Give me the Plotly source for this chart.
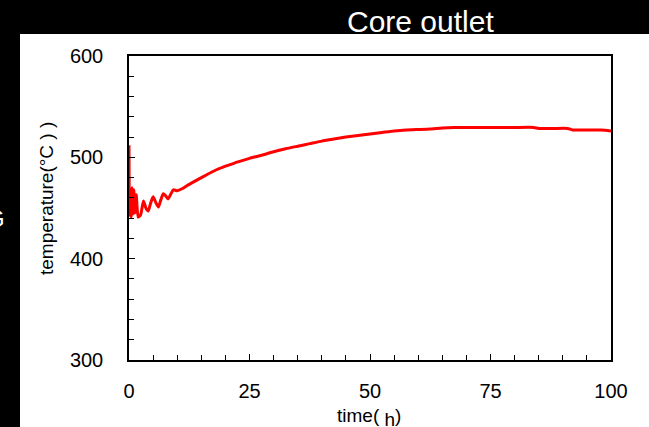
import plotly.graph_objects as go

# ---- data ----
time_h = [0, 0.1, 0.3, 0.45, 0.6, 0.8, 1.0, 1.2, 1.5, 1.9, 2.4, 3.0, 3.5, 4.0, 4.5, 5.0,
          5.6, 6.1, 6.6, 7.1, 7.6, 8.1, 8.6, 9.2, 10, 11, 12, 13.5, 15.4, 17, 18.8,
          20.5, 22.6, 25, 27.5, 30, 32.5, 35, 37.5, 40, 42.5, 45, 47.5, 50, 52.5, 55,
          57.5, 60, 62.5, 65, 67.5, 70, 75, 80, 84, 85, 88, 91, 92, 95, 98, 100]
temperature = [512, 443, 466, 441, 470, 444, 468, 445, 463, 441, 443, 457, 450, 447, 455, 461,
               455, 451, 458, 464, 462, 459, 463, 468, 467, 469, 472, 476, 481, 485, 489,
               492, 495.5, 499, 502, 505.5, 508.5, 511, 513.5, 516, 518, 520, 521.5, 523, 524.5, 526,
               527, 527.5, 528, 529, 529.5, 529.5, 529.5, 529.5, 529.5, 528.5, 528.5, 528.5, 527, 527, 527, 526]

x_ticks = [0, 25, 50, 75, 100]
y_ticks = [300, 400, 500, 600]
title_text = "Core outlet"
x_title = "time( <sub><span style='font-size:19px'>h</span></sub>)"
y_title = "temperature(°C ) )"

W, H = 649, 427
L, R, T, B = 129, 38, 56, 67
pw, ph = W - L - R, H - T - B

def px(x):
    return (x - L) / pw

def py(y):
    return (H - B - y) / ph

font_fam = "Arial, Liberation Sans, sans-serif"

fig = go.Figure()
fig.add_trace(go.Scatter(x=time_h, y=temperature, mode="lines",
                         line=dict(color="#ff0000", width=3, shape="spline", smoothing=0.5),
                         showlegend=False, hoverinfo="skip"))

fig.update_layout(
    width=W, height=H,
    margin=dict(l=L, r=R, t=T, b=B, autoexpand=False),
    paper_bgcolor="black",
    plot_bgcolor="white",
    font=dict(family=font_fam, color="black", size=20),
    shapes=[dict(type="rect", xref="paper", yref="paper",
                 x0=px(20), x1=px(W + 5), y0=py(H + 5), y1=py(34),
                 fillcolor="white", line=dict(width=0), layer="below")],
    annotations=[
        dict(text=title_text, xref="paper", yref="paper", x=px(420), y=py(21),
             xanchor="center", yanchor="middle", showarrow=False,
             font=dict(size=30, color="white", family=font_fam)),
        dict(text="G", xref="paper", yref="paper", x=px(7), y=py(218),
             xanchor="right", yanchor="middle", showarrow=False,
             font=dict(size=24, color="white", family=font_fam)),
        dict(text=x_title, xref="paper", yref="paper", x=px(369), y=py(417),
             xanchor="center", yanchor="middle", showarrow=False,
             font=dict(size=19, color="black", family=font_fam)),
        dict(text=y_title, xref="paper", yref="paper", x=px(46), y=py(199),
             xanchor="center", yanchor="middle", showarrow=False, textangle=-90,
             font=dict(size=19, color="black", family=font_fam)),
    ],
)

fig.update_xaxes(range=[0, 100], tickvals=x_ticks, ticktext=[str(v) for v in x_ticks],
                 showgrid=False, zeroline=False, showline=True, linecolor="black", linewidth=1.5,
                 mirror=True, ticks="inside", ticklen=6, tickcolor="black",
                 ticklabelstandoff=12,
                 minor=dict(dtick=5, ticks="inside", ticklen=5, tickcolor="black", showgrid=False))
fig.update_yaxes(range=[300, 600], tickvals=y_ticks, ticktext=[str(v) for v in y_ticks],
                 showgrid=False, zeroline=False, showline=True, linecolor="black", linewidth=1.5,
                 mirror=True, ticks="inside", ticklen=6, tickcolor="black",
                 ticklabelstandoff=20,
                 minor=dict(dtick=20, ticks="inside", ticklen=5, tickcolor="black", showgrid=False))

fig.write_html("out.html",
               config={"displayModeBar": False},
               post_script="document.body.style.margin='0';"
                           "document.body.style.background='black';"
                           "document.body.style.overflow='hidden';")
